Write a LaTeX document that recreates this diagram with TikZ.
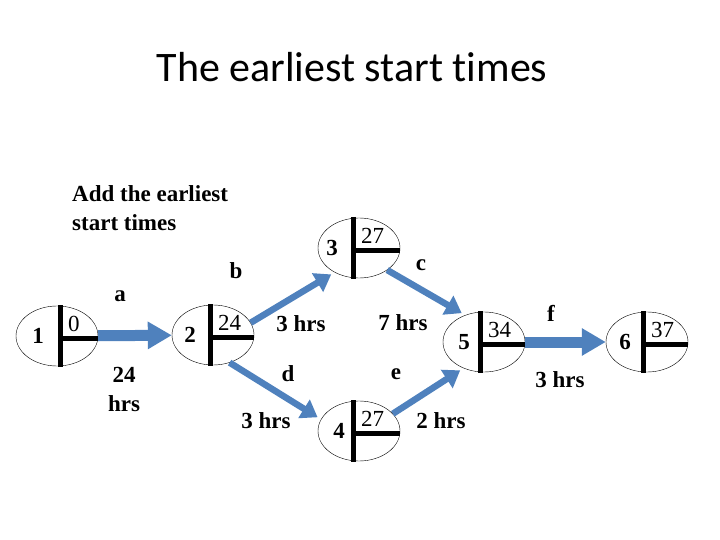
\documentclass[tikz,border=0pt]{standalone}
\usepackage{fontspec}
\setmainfont{Liberation Serif}
\newfontfamily\titlefont{Carlito}[Ligatures=NoCommon]
\usetikzlibrary{calc, shapes, arrows.meta}
\definecolor{arrowblue}{RGB}{79,129,189}

\begin{document}
\begin{tikzpicture}[x=1pt, y=-1pt,
    event/.style={ellipse, draw, thin, minimum width=82pt, minimum height=60pt, inner sep=0pt},
    bigarrow/.style={arrowblue, line width=11pt, -{Triangle[length=24pt, width=26pt]}},
    smallarrow/.style={arrowblue, line width=6.5pt, shorten >=4pt, -{Triangle[length=16pt, width=21pt]}},
    lbl/.style={font=\fontsize{23}{29}\selectfont\bfseries, inner sep=0pt, align=center}]
  \useasboundingbox (0,0) rectangle (720,540);
  \node[font=\titlefont\fontsize{42}{50}\selectfont, anchor=base] (title) at (352,82) {The earliest start times};
  \node[lbl, align=left, anchor=north west] (hint) at (72,185) {Add the earliest\\start times};
  % events
  \foreach \n/\x/\y/\b/\l/\num/\est in {n1/57/336/3/-19/1/0, n2/213/335/-3/-23/2/24, n3/359/248/-6/-27/3/27, n4/359/431/-6/-20/4/27, n5/484/342/-4/-20/5/34, n6/647/342/-4/-22/6/37}{
    \node[event] (\n) at (\x,\y) {};
    \draw[line width=5pt] ($(\n.center)+(\b,-31)$) -- ($(\n.center)+(\b,31)$);
    \draw[line width=5pt] ($(\n.center)+(\b,2)$) -- ($(\n.east)+(0,2)$);
    \node[lbl] (\n-num) at ($(\n.center)+(\l,0)$) {\num};
    \node[lbl, font=\fontsize{23}{29}\selectfont, anchor=west] (\n-est) at ($(\n.center)+(\b+8,-12)$) {\est};
  }
  % activities
  \draw[bigarrow] (n1) -- (n2);
  \draw[smallarrow] (n2.18) -- (n3.225);
  \draw[smallarrow] (n3.-38) -- (n5.125);
  \draw[smallarrow] (n2.-59) -- (n4.163);
  \draw[smallarrow] (n4.27) -- (n5.232);
  \draw[bigarrow] (n5) -- (n6);
  \node[lbl] (la) at (120,296) {a};
  \node[lbl] (lat) at (124,389) {24\\hrs};
  \node[lbl] (lb) at (236,271) {b};
  \node[lbl] (lbt) at (301,324) {3 hrs};
  \node[lbl] (lc) at (421,265) {c};
  \node[lbl] (lct) at (403,323) {7 hrs};
  \node[lbl] (ld) at (288,374) {d};
  \node[lbl] (ldt) at (266,421) {3 hrs};
  \node[lbl] (le) at (396,374) {e};
  \node[lbl] (let) at (441,421) {2 hrs};
  \node[lbl] (lf) at (551,313) {f};
  \node[lbl] (lft) at (560,380) {3 hrs};
\end{tikzpicture}
\end{document}
